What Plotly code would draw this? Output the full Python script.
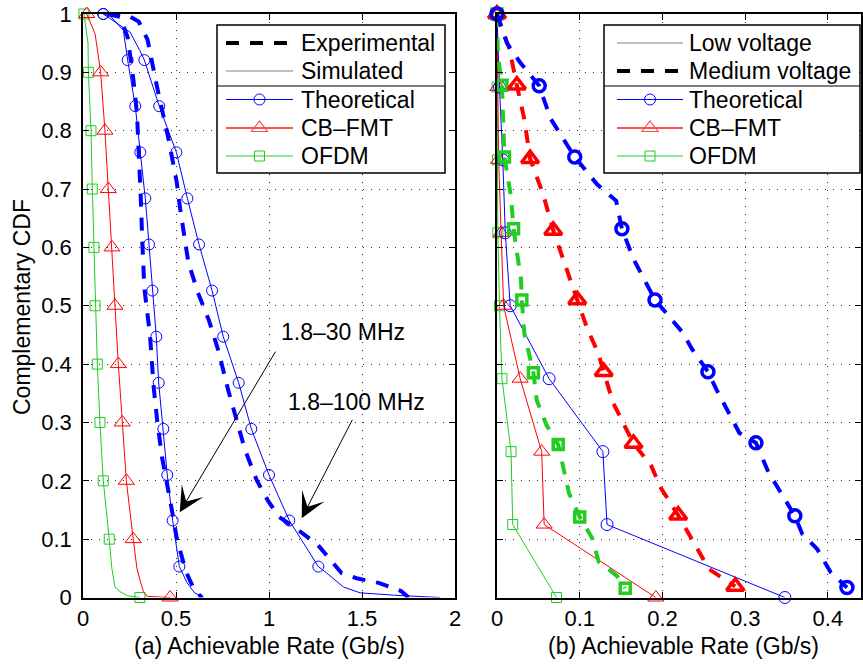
import plotly.graph_objects as go

W, H = 863, 666

BLUE = "#0000ff"
RED = "#ff0000"
GREEN = "#22cc22"
GRAY = "#808080"

# ---------------- Panel (a) data ----------------
# Theoretical, 1.8-30 MHz (simulated, thin)
a_th30_x = [0.109, 0.145, 0.217, 0.24, 0.281, 0.308, 0.335, 0.355, 0.373, 0.394, 0.407, 0.432, 0.453, 0.482, 0.518, 0.56, 0.60, 0.65]
a_th30_y = [1.0, 0.997, 0.972, 0.921, 0.842, 0.763, 0.684, 0.605, 0.526, 0.447, 0.368, 0.289, 0.21, 0.132, 0.053, 0.025, 0.008, 0.0]
a_th30_mx = [0.109, 0.24, 0.281, 0.308, 0.335, 0.355, 0.373, 0.394, 0.407, 0.432, 0.453, 0.482, 0.518]
a_th_my = [1.0, 0.921, 0.842, 0.763, 0.684, 0.605, 0.526, 0.447, 0.368, 0.289, 0.21, 0.132, 0.053]

# Theoretical, 1.8-100 MHz (simulated, thin)
a_th100_x = [0.109, 0.253, 0.306, 0.33, 0.41, 0.502, 0.561, 0.624, 0.694, 0.754, 0.837, 0.905, 1.0, 1.109, 1.265, 1.31, 1.40, 1.49, 1.67, 1.92]
a_th100_y = [1.0, 0.969, 0.937, 0.921, 0.842, 0.763, 0.684, 0.605, 0.526, 0.447, 0.368, 0.289, 0.21, 0.132, 0.053, 0.042, 0.018, 0.008, 0.004, 0.0]
a_th100_mx = [0.109, 0.33, 0.41, 0.502, 0.561, 0.624, 0.694, 0.754, 0.837, 0.905, 1.0, 1.109, 1.265]

# Theoretical, experimental (thick dashed)
a_ex30_x = [0.13, 0.2, 0.24, 0.255, 0.27, 0.29, 0.30, 0.31, 0.32, 0.33, 0.36, 0.38, 0.40, 0.425, 0.47, 0.505, 0.554, 0.60, 0.64]
a_ex30_y = [1.0, 0.995, 0.96, 0.93, 0.89, 0.83, 0.77, 0.69, 0.6, 0.53, 0.45, 0.36, 0.3, 0.24, 0.164, 0.1, 0.044, 0.012, 0.0]
a_ex100_x = [0.13, 0.24, 0.30, 0.347, 0.40, 0.459, 0.504, 0.522, 0.566, 0.616, 0.677, 0.727, 0.781, 0.871, 0.934, 0.996, 1.054, 1.156, 1.263, 1.39, 1.47, 1.59, 1.71, 1.75]
a_ex100_y = [1.0, 0.998, 0.987, 0.956, 0.872, 0.787, 0.712, 0.667, 0.575, 0.524, 0.475, 0.424, 0.355, 0.253, 0.201, 0.165, 0.138, 0.116, 0.09, 0.042, 0.033, 0.025, 0.011, 0.0]

# CB-FMT (thin)
a_cb_x = [0.02, 0.065, 0.095, 0.118, 0.136, 0.156, 0.172, 0.19, 0.211, 0.233, 0.27, 0.29, 0.306, 0.325, 0.345, 0.468]
a_cb_y = [1.0, 0.966, 0.9, 0.8, 0.7, 0.6, 0.5, 0.4, 0.3, 0.2, 0.1, 0.05, 0.03, 0.01, 0.002, 0.0]
a_cb_mx = [0.02, 0.095, 0.118, 0.136, 0.156, 0.172, 0.19, 0.211, 0.233, 0.27, 0.468]
a_grid_my = [1.0, 0.9, 0.8, 0.7, 0.6, 0.5, 0.4, 0.3, 0.2, 0.1, 0.0]

# OFDM (thin)
a_of_x = [0.005, 0.02, 0.027, 0.029, 0.043, 0.05, 0.059, 0.065, 0.077, 0.091, 0.109, 0.141, 0.155, 0.172, 0.2, 0.24, 0.306]
a_of_y = [1.0, 0.97, 0.95, 0.9, 0.8, 0.7, 0.6, 0.5, 0.4, 0.3, 0.2, 0.1, 0.05, 0.018, 0.01, 0.003, 0.0]
a_of_mx = [0.005, 0.029, 0.043, 0.05, 0.059, 0.065, 0.077, 0.091, 0.109, 0.141, 0.306]

# ---------------- Panel (b) data ----------------
b_low_y = [1.0, 0.875, 0.75, 0.625, 0.5, 0.375, 0.25, 0.125, 0.0]
b_low_th_x = [0.0, 0.003, 0.007, 0.01, 0.016, 0.063, 0.128, 0.133, 0.348]
b_low_cb_x = [0.0, 0.001, 0.002, 0.005, 0.008, 0.028, 0.054, 0.057, 0.192]
b_low_of_x = [0.0, 0.0, 0.0005, 0.001, 0.003, 0.006, 0.017, 0.019, 0.072]

b_med_th_mx = [0.0, 0.051, 0.094, 0.151, 0.191, 0.255, 0.313, 0.36, 0.423]
b_med_th_my = [1.0, 0.877, 0.755, 0.632, 0.51, 0.387, 0.265, 0.14, 0.017]
b_med_th_x = [0.0, 0.012, 0.028, 0.051, 0.065, 0.094, 0.121, 0.144, 0.151, 0.165, 0.191, 0.224, 0.236, 0.255, 0.265, 0.278, 0.293, 0.313, 0.328, 0.343, 0.36, 0.369, 0.387, 0.403, 0.423]
b_med_th_y = [1.0, 0.95, 0.917, 0.877, 0.82, 0.755, 0.708, 0.68, 0.632, 0.58, 0.51, 0.455, 0.425, 0.387, 0.357, 0.321, 0.282, 0.265, 0.215, 0.18, 0.14, 0.109, 0.083, 0.044, 0.017]

b_med_cb_mx = [0.0, 0.024, 0.04, 0.068, 0.097, 0.129, 0.165, 0.219, 0.288]
b_med_cb_my = [1.0, 0.878, 0.752, 0.629, 0.51, 0.387, 0.264, 0.141, 0.019]
b_med_cb_x = [0.0, 0.015, 0.024, 0.033, 0.04, 0.056, 0.068, 0.083, 0.097, 0.109, 0.122, 0.129, 0.14, 0.154, 0.165, 0.186, 0.198, 0.219, 0.243, 0.256, 0.288]
b_med_cb_y = [1.0, 0.94, 0.878, 0.82, 0.752, 0.69, 0.629, 0.57, 0.51, 0.461, 0.42, 0.387, 0.335, 0.295, 0.264, 0.227, 0.188, 0.141, 0.083, 0.049, 0.019]

b_med_of_mx = [0.0, 0.006, 0.009, 0.02, 0.03, 0.044, 0.074, 0.1, 0.155]
b_med_of_my = [1.0, 0.878, 0.755, 0.632, 0.51, 0.385, 0.262, 0.138, 0.016]
b_med_of_x = [0.0, 0.001, 0.006, 0.008, 0.009, 0.017, 0.02, 0.025, 0.029, 0.03, 0.033, 0.044, 0.048, 0.06, 0.074, 0.087, 0.1, 0.115, 0.123, 0.145, 0.155]
b_med_of_y = [1.0, 0.93, 0.878, 0.81, 0.755, 0.686, 0.632, 0.583, 0.545, 0.51, 0.453, 0.385, 0.338, 0.295, 0.262, 0.179, 0.138, 0.102, 0.061, 0.037, 0.016]

# tick labels
a_xticks = [0, 0.5, 1, 1.5, 2]
a_xticklabels = ["0", "0.5", "1", "1.5", "2"]
b_xticks = [0, 0.1, 0.2, 0.3, 0.4]
b_xticklabels = ["0", "0.1", "0.2", "0.3", "0.4"]
yticks = [i / 10 for i in range(11)]
yticklabels = ["0", "0.1", "0.2", "0.3", "0.4", "0.5", "0.6", "0.7", "0.8", "0.9", "1"]

FONT = "Liberation Sans, Arial, Helvetica, sans-serif"
DASH = "13px,11px"
TXT = 23

fig = go.Figure()


def line(x, y, color, width, dash, xa, ya):
    fig.add_trace(go.Scatter(x=x, y=y, mode="lines", xaxis=xa, yaxis=ya,
                             line=dict(color=color, width=width, dash=dash),
                             showlegend=False, hoverinfo="skip"))


def marks(x, y, color, symbol, size, lw, xa, ya):
    fig.add_trace(go.Scatter(x=x, y=y, mode="markers", xaxis=xa, yaxis=ya,
                             marker=dict(symbol=symbol, size=size, color=color,
                                         line=dict(color=color, width=lw)),
                             cliponaxis=False, showlegend=False, hoverinfo="skip"))


# panel (a)
line(a_of_x, a_of_y, GREEN, 1, "solid", "x", "y")
marks(a_of_mx, a_grid_my, GREEN, "square-open", 10, 1, "x", "y")
line(a_cb_x, a_cb_y, RED, 1, "solid", "x", "y")
marks(a_cb_mx, a_grid_my, RED, "triangle-up-open", 14, 1, "x", "y")
line(a_th30_x, a_th30_y, BLUE, 1, "solid", "x", "y")
marks(a_th30_mx, a_th_my, BLUE, "circle-open", 11, 1, "x", "y")
line(a_th100_x, a_th100_y, BLUE, 1, "solid", "x", "y")
marks(a_th100_mx, a_th_my, BLUE, "circle-open", 11, 1, "x", "y")
line(a_ex30_x, a_ex30_y, BLUE, 4, DASH, "x", "y")
line(a_ex100_x, a_ex100_y, BLUE, 4, DASH, "x", "y")

# panel (b) low voltage
line(b_low_of_x, b_low_y, GREEN, 1, "solid", "x2", "y2")
marks(b_low_of_x, b_low_y, GREEN, "square-open", 10, 1, "x2", "y2")
line(b_low_cb_x, b_low_y, RED, 1, "solid", "x2", "y2")
marks(b_low_cb_x, b_low_y, RED, "triangle-up-open", 14, 1, "x2", "y2")
line(b_low_th_x, b_low_y, BLUE, 1, "solid", "x2", "y2")
marks(b_low_th_x, b_low_y, BLUE, "circle-open", 12, 1, "x2", "y2")
# panel (b) medium voltage
line(b_med_of_x, b_med_of_y, GREEN, 4, DASH, "x2", "y2")
marks(b_med_of_mx, b_med_of_my, GREEN, "square-open", 10, 3.5, "x2", "y2")
line(b_med_cb_x, b_med_cb_y, RED, 4, DASH, "x2", "y2")
marks(b_med_cb_mx, b_med_cb_my, RED, "triangle-up-open", 15, 3.5, "x2", "y2")
line(b_med_th_x, b_med_th_y, BLUE, 4, DASH, "x2", "y2")
marks(b_med_th_mx, b_med_th_my, BLUE, "circle-open", 12, 3.5, "x2", "y2")

# ---------------- layout ----------------
def px(x):
    return x / W


def py(y):
    return 1 - y / H


ydom = [py(597.5), py(14)]
common = dict(showline=True, linecolor="black", linewidth=1.5, mirror="ticks",
              ticks="inside", ticklen=6, tickcolor="black", tickwidth=1,
              showgrid=True, gridcolor="#333333", gridwidth=1, griddash="1px,7px",
              zeroline=False, automargin=False,
              tickfont=dict(size=22, color="black", family=FONT))

fig.update_layout(
    width=W, height=H, margin=dict(l=0, r=0, t=0, b=0, autoexpand=False),
    paper_bgcolor="white", plot_bgcolor="white",
    font=dict(family=FONT, color="black", size=22),
    xaxis=dict(domain=[px(83), px(455)], range=[0, 2], tickvals=a_xticks, ticktext=a_xticklabels,
               anchor="y", **common),
    yaxis=dict(domain=ydom, range=[0, 1], tickvals=yticks, ticktext=yticklabels, anchor="x",
               ticklabelstandoff=5, **common),
    xaxis2=dict(domain=[px(497), px(861)], range=[0, 0.44], tickvals=b_xticks, ticktext=b_xticklabels,
                anchor="y2", **common),
    yaxis2=dict(domain=ydom, range=[0, 1], tickvals=yticks, showticklabels=False, anchor="x2", **common),
)

annotations = []
shapes = []

# axis titles
annotations.append(dict(text="(a) Achievable Rate (Gb/s)", x=px(269), y=py(646), xref="paper", yref="paper",
                        xanchor="center", yanchor="middle", showarrow=False, font=dict(size=TXT)))
annotations.append(dict(text="(b) Achievable Rate (Gb/s)", x=px(683), y=py(646), xref="paper", yref="paper",
                        xanchor="center", yanchor="middle", showarrow=False, font=dict(size=TXT)))
annotations.append(dict(text="Complementary CDF", x=px(22), y=py(307), xref="paper", yref="paper",
                        xanchor="center", yanchor="middle", showarrow=False, textangle=-90, font=dict(size=TXT)))

# band annotations with arrows (panel a, data coordinates)
annotations.append(dict(text="1.8–30 MHz", x=1.40, y=0.455, xref="x", yref="y", xanchor="center",
                        yanchor="middle", showarrow=False, font=dict(size=TXT)))
annotations.append(dict(text="1.8–100 MHz", x=1.468, y=0.335, xref="x", yref="y", xanchor="center",
                        yanchor="middle", showarrow=False, font=dict(size=TXT)))
for (hx, hy, tx, ty) in [(0.52, 0.146, 1.04, 0.424), (1.176, 0.136, 1.452, 0.307)]:
    annotations.append(dict(text="", x=hx, y=hy, ax=tx, ay=ty, xref="x", yref="y", axref="x", ayref="y",
                            showarrow=True, arrowhead=3, arrowsize=4.2, arrowwidth=1, arrowcolor="black",
                            standoff=0, startstandoff=0))

# ---------------- manual legends ----------------
def legend(box, sample, text_x, rows, entries):
    x0, x1, y0, y1, ydiv = box
    shapes.append(dict(type="rect", xref="paper", yref="paper", x0=px(x0), x1=px(x1), y0=py(y1), y1=py(y0),
                       line=dict(color="black", width=1.5), fillcolor="white", layer="above"))
    shapes.append(dict(type="line", xref="paper", yref="paper", x0=px(x0), x1=px(x1), y0=py(ydiv), y1=py(ydiv),
                       line=dict(color="black", width=1.2), layer="above"))
    sx0, sx1 = sample
    cx = (sx0 + sx1) / 2
    for ry, (label, color, width, dash, sym, mlw) in zip(rows, entries):
        shapes.append(dict(type="line", xref="paper", yref="paper", x0=px(sx0), x1=px(sx1), y0=py(ry), y1=py(ry),
                           line=dict(color=color, width=width, dash=dash), layer="above"))
        if sym:
            base = dict(xref="paper", yref="paper", xsizemode="pixel", ysizemode="pixel",
                        xanchor=px(cx), yanchor=py(ry), line=dict(color=color, width=mlw),
                        fillcolor="rgba(0,0,0,0)", layer="above")
            if sym == "circle":
                shapes.append(dict(type="circle", x0=-5.5, x1=5.5, y0=-5.5, y1=5.5, **base))
            elif sym == "triangle":
                shapes.append(dict(type="path", path="M-8.1,-3.5 L8.1,-3.5 L0,7 Z", **base))
            elif sym == "square":
                shapes.append(dict(type="path", path="M-5,-5 L5,-5 L5,5 L-5,5 Z", **base))
        annotations.append(dict(text=label, x=px(text_x), y=py(ry), xref="paper", yref="paper",
                                xanchor="left", yanchor="middle", showarrow=False, font=dict(size=TXT)))


rows = [43, 71, 99.5, 128, 156]
legend((217, 445, 25, 173, 86), (226, 293), 299, rows, [
    ("Experimental", "black", 4, DASH, None, 0),
    ("Simulated", GRAY, 1, "solid", None, 0),
    ("Theoretical", BLUE, 1, "solid", "circle", 1),
    ("CB–FMT", "#ff5050", 2, "solid", "triangle", 1.2),
    ("OFDM", GREEN, 1, "solid", "square", 1),
])
legend((604, 860, 25, 173, 86), (617, 683), 687, rows, [
    ("Low voltage", GRAY, 1, "solid", None, 0),
    ("Medium voltage", "black", 4, DASH, None, 0),
    ("Theoretical", BLUE, 1, "solid", "circle", 1),
    ("CB–FMT", "#ff5050", 2, "solid", "triangle", 1.2),
    ("OFDM", GREEN, 1, "solid", "square", 1),
])

fig.update_layout(annotations=annotations, shapes=shapes)
fig.write_html("out.html")
